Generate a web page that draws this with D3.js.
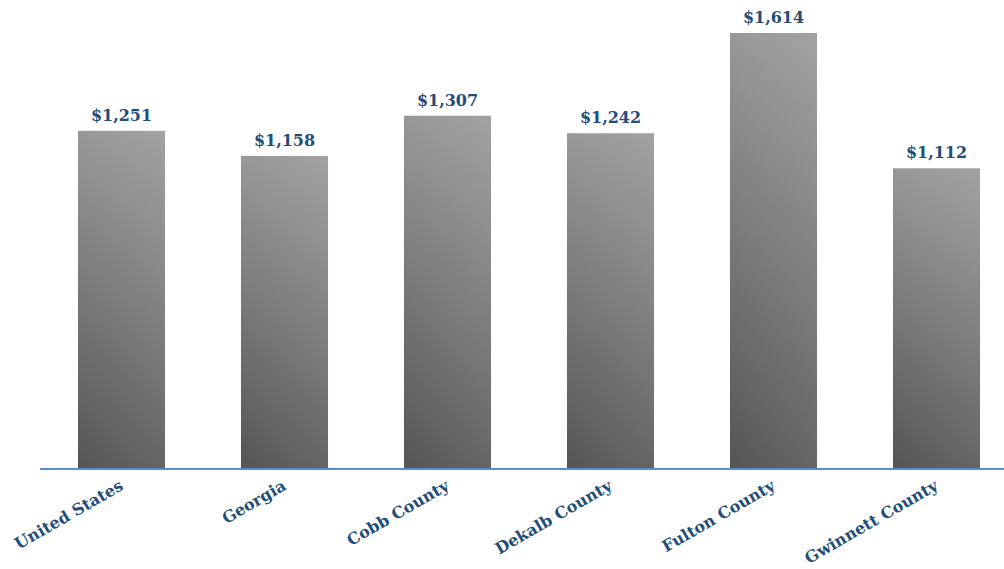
<!DOCTYPE html>
<html><head><meta charset="utf-8">
<script src="https://cdn.jsdelivr.net/npm/d3@7"></script>
<style>html,body{margin:0;padding:0;background:#fff;overflow:hidden}</style>
</head><body>
<svg id="c" width="1004" height="569"></svg>
<script>
const categories = ["United States","Georgia","Cobb County","Dekalb County","Fulton County","Gwinnett County"];
const values = [1251,1158,1307,1242,1614,1112];
const valueLabels = ["$1,251","$1,158","$1,307","$1,242","$1,614","$1,112"];

const svg = d3.select("#c");
const W = 1004, H = 569;
const baseY = 468;
const x = d3.scaleBand().domain(categories).range([40,1018]).paddingInner(0.466).paddingOuter(0.233);
const y = d3.scaleLinear().domain([0,1614]).range([baseY,33]);

const defs = svg.append("defs");
const gv = defs.append("linearGradient").attr("id","gv").attr("x1",0).attr("y1",0).attr("x2",0).attr("y2",1);
gv.append("stop").attr("offset","0%").attr("stop-color","#989898");
gv.append("stop").attr("offset","100%").attr("stop-color","#555555");
const gh = defs.append("linearGradient").attr("id","gh").attr("x1",0).attr("y1",0).attr("x2",1).attr("y2",0);
gh.append("stop").attr("offset","0%").attr("stop-color","#fff").attr("stop-opacity",0);
gh.append("stop").attr("offset","100%").attr("stop-color","#fff").attr("stop-opacity",0.1);

const font = "'DejaVu Serif', Georgia, serif";
const blue = "#1f4e79";

const g = svg.append("g");
g.selectAll("rect.bar").data(categories).join("rect").attr("class","bar")
  .attr("x",d=>x(d)).attr("width",x.bandwidth())
  .attr("y",(d,i)=>y(values[i])).attr("height",(d,i)=>baseY-y(values[i]))
  .attr("fill","url(#gv)");
g.selectAll("rect.sh").data(categories).join("rect").attr("class","sh")
  .attr("x",d=>x(d)).attr("width",x.bandwidth())
  .attr("y",(d,i)=>y(values[i])).attr("height",(d,i)=>baseY-y(values[i]))
  .attr("fill","url(#gh)");

svg.append("line").attr("x1",40).attr("x2",W).attr("y1",baseY+1).attr("y2",baseY+1)
  .attr("stroke","#5b8ccf").attr("stroke-width",2);

g.selectAll("text.v").data(categories).join("text").attr("class","v")
  .attr("x",d=>x(d)+x.bandwidth()/2).attr("y",(d,i)=>y(values[i])-10)
  .attr("text-anchor","middle").attr("font-family",font).attr("font-weight","bold")
  .attr("font-size",16).attr("fill",blue).text((d,i)=>valueLabels[i]);

g.selectAll("text.c").data(categories).join("text").attr("class","c")
  .attr("transform",d=>`translate(${x(d)+x.bandwidth()/2},${baseY+16}) rotate(-30)`)
  .attr("text-anchor","end").attr("font-family",font).attr("font-weight","bold")
  .attr("font-size",16).attr("fill",blue).attr("dy","0.35em").text(d=>d);
</script>
</body></html>
